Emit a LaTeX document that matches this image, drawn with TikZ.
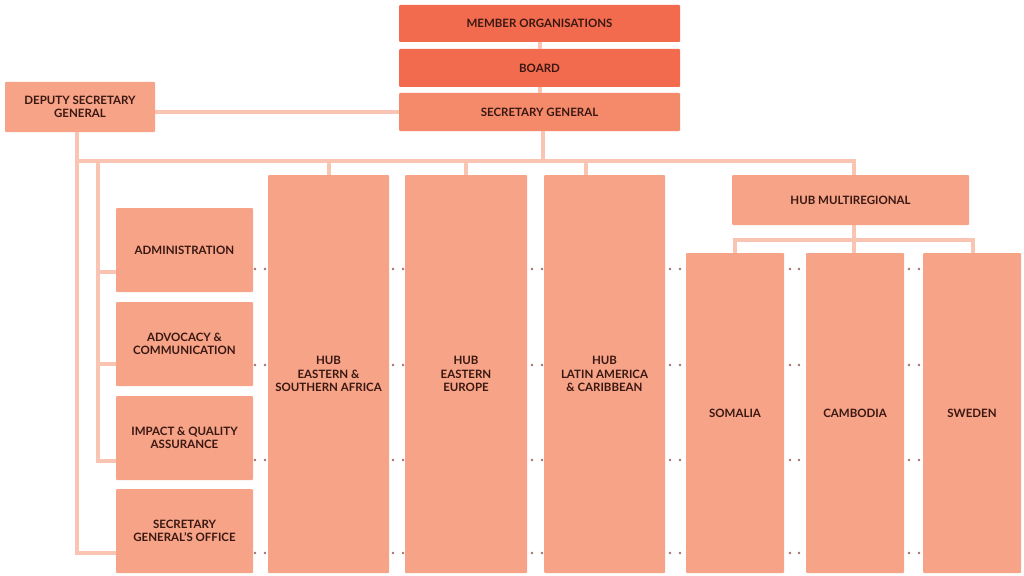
\documentclass[tikz,border=0pt]{standalone}
\usepackage{fontspec}
\setmainfont{Lato}
\definecolor{boxc}{HTML}{F6A387}
\definecolor{sgc}{HTML}{F58A6B}
\definecolor{topc}{HTML}{F26B4F}
\definecolor{linec}{HTML}{F9C4B1}
\definecolor{txtc}{HTML}{3A1812}
\definecolor{dotc}{HTML}{A2716C}
\begin{document}
\begin{tikzpicture}[x=1pt,y=-1pt,
  box/.style={fill=boxc, rounded corners=1pt, inner sep=0pt, align=center,
    font=\fontsize{11.5}{13.5}\selectfont\bfseries, text=txtc},
  conn/.style={draw=linec, line width=4pt},
  dotmark/.style={fill=dotc, draw=none}]
\useasboundingbox (0,0) rectangle (1024,575);
\fill[white] (0,0) rectangle (1024,575);
\coordinate (ya) at (0,161);
\coordinate (xl) at (77,0);
\coordinate (xm) at (98,0);
% nodes
\node[box, fill=topc, minimum width=281pt, minimum height=37pt] (mo) at (539.5,23.5) {MEMBER ORGANISATIONS};
\node[box, fill=topc, minimum width=281pt, minimum height=38pt] (board) at (539.5,68) {BOARD};
\node[box, fill=sgc, minimum width=281pt, minimum height=38pt] (sg) at (539.5,112) {SECRETARY GENERAL};
\node[box, minimum width=150pt, minimum height=50pt] (dsg) at (80,107) {DEPUTY SECRETARY\\GENERAL};
\node[box, minimum width=137pt, minimum height=84pt] (adm) at (184.5,250) {ADMINISTRATION};
\node[box, minimum width=137pt, minimum height=84pt] (adv) at (184.5,344) {ADVOCACY \&\\COMMUNICATION};
\node[box, minimum width=137pt, minimum height=84pt] (imp) at (184.5,438) {IMPACT \& QUALITY\\ASSURANCE};
\node[box, minimum width=137pt, minimum height=84pt] (sgo) at (184.5,531) {SECRETARY\\GENERAL’S OFFICE};
\node[box, minimum width=121pt, minimum height=398pt] (esa) at (328.5,374) {HUB\\EASTERN \&\\SOUTHERN AFRICA};
\node[box, minimum width=122pt, minimum height=398pt] (ee) at (466,374) {HUB\\EASTERN\\EUROPE};
\node[box, minimum width=121pt, minimum height=398pt] (lac) at (604.5,374) {HUB\\LATIN AMERICA\\\& CARIBBEAN};
\node[box, minimum width=237pt, minimum height=50pt] (multi) at (850.5,200) {HUB MULTIREGIONAL};
\node[box, minimum width=98pt, minimum height=320pt] (som) at (735,413) {SOMALIA};
\node[box, minimum width=98pt, minimum height=320pt] (cam) at (855,413) {CAMBODIA};
\node[box, minimum width=98pt, minimum height=320pt] (swe) at (972,413) {SWEDEN};
% connectors
\draw[conn] (mo.south) -- (board.north);
\draw[conn] (board.south) -- (sg.north);
\draw[conn] (sg.west) -- (sg.west -| dsg.east);
\draw[conn] (dsg.south -| xl) |- (sgo.west |- 0,553);
\draw[conn] (xl |- ya) -- (854,161) -- (multi.north -| 854,0);
\draw[conn] (sg.south -| 543,0) -- (543,161);
\draw[conn] (329,161) -- (esa.north -| 329,0);
\draw[conn] (ee.north |- ya) -- (ee.north);
\draw[conn] (586,161) -- (lac.north -| 586,0);
\draw[conn] (xm |- ya) -- (98,461) -- (imp.west |- 0,461);
\draw[conn] (98,272) -- (adm.west |- 0,272);
\draw[conn] (98,364) -- (adv.west |- 0,364);
\draw[conn] (multi.south -| 854,0) -- (854,240);
\draw[conn] (som.north -| 735,0) -- (735,240) -- (973,240) -- (swe.north -| 973,0);
\draw[conn] (854,240) -- (cam.north -| 854,0);
% dots
\foreach \y in {269,365,460,553}{
  \foreach \x in {255,265,393,403,532,542,670,680,790,799,909,919}{
    \fill[dotmark] (\x,\y) circle (1.3pt);
  }
}
\end{tikzpicture}
\end{document}
